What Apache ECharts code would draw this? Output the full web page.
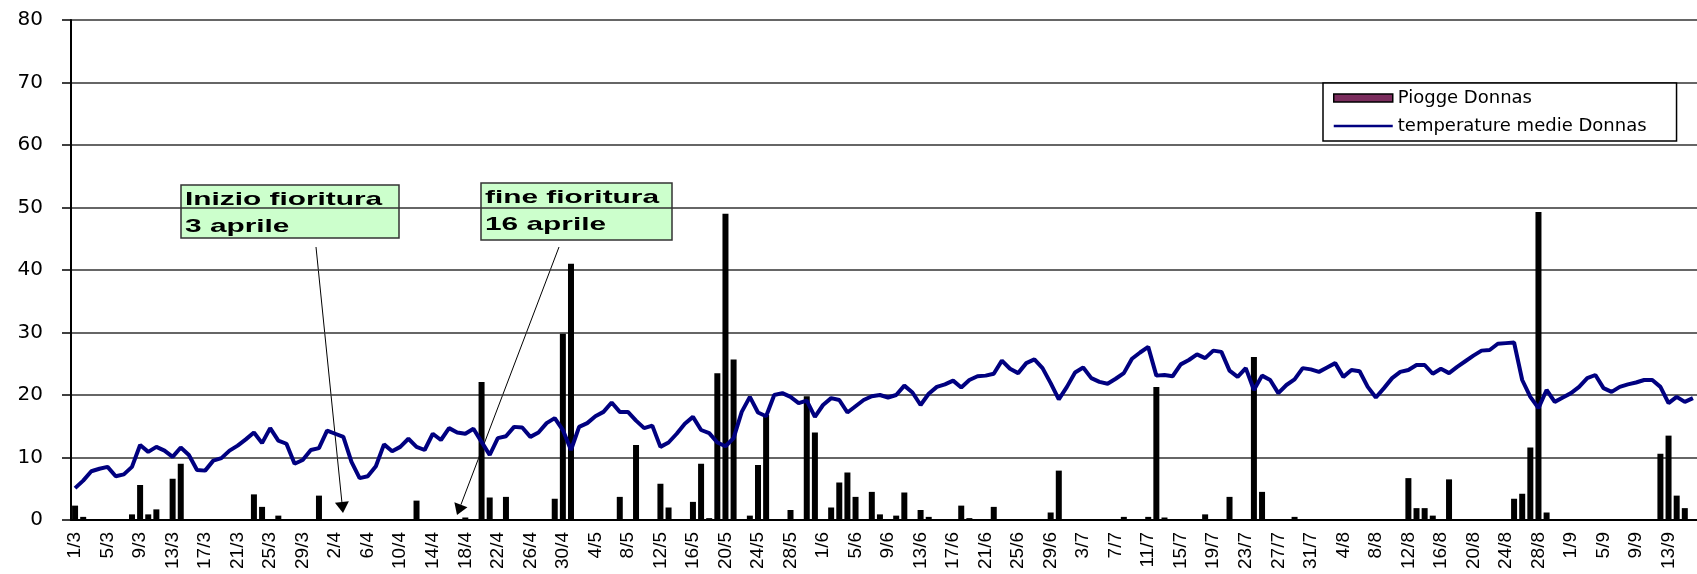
<!DOCTYPE html>
<html>
<head>
<meta charset="utf-8">
<script src="https://cdn.jsdelivr.net/npm/echarts@6/dist/echarts.min.js"></script>
<style>
html, body { margin: 0; padding: 0; background: #fff; }
#chart { width: 1697px; height: 574px; }
</style>
</head>
<body>
<div id="chart"></div>
<script>
// giorni dal 1/3 in avanti (etichette d/m)
var monthDays = [[3, 31], [4, 30], [5, 31], [6, 30], [7, 31], [8, 31], [9, 30]];
var days = [];
monthDays.forEach(function (m) {
    for (var d = 1; d <= m[1]; d++) days.push(d + '/' + m[0]);
});
days = days.slice(0, 200);

// pioggia giornaliera (mm)
var piogge = [
    2.3, 0.5, 0, 0, 0, 0, 0, 0.9, 5.6, 0.9,
    1.7, 0, 6.6, 9.0, 0, 0, 0, 0, 0, 0,
    0, 0, 4.1, 2.1, 0, 0.7, 0, 0, 0, 0,
    3.9, 0, 0, 0, 0, 0, 0, 0, 0, 0,
    0, 0, 3.1, 0, 0, 0, 0, 0, 0.4, 0,
    22.1, 3.6, 0, 3.7, 0, 0, 0, 0, 0, 3.4,
    29.8, 41.0, 0, 0, 0, 0, 0, 3.7, 0, 12.0,
    0, 0, 5.8, 2.0, 0, 0, 2.9, 9.0, 0.3, 23.5,
    49.0, 25.7, 0, 0.7, 8.8, 16.8, 0, 0, 1.6, 0,
    19.8, 14.0, 0, 2.0, 6.0, 7.6, 3.7, 0, 4.5, 0.9,
    0, 0.7, 4.4, 0, 1.6, 0.5, 0, 0, 0, 2.3,
    0.3, 0, 0, 2.1, 0, 0, 0, 0, 0, 0,
    1.2, 7.9, 0, 0, 0, 0, 0, 0, 0, 0.5,
    0, 0, 0.5, 21.3, 0.4, 0, 0, 0, 0, 0.9,
    0, 0, 3.7, 0, 0, 26.1, 4.5, 0, 0, 0,
    0.5, 0, 0, 0, 0, 0, 0, 0, 0, 0,
    0, 0, 0, 0, 6.7, 1.9, 1.9, 0.7, 0, 6.5,
    0, 0, 0, 0, 0, 0, 0, 3.4, 4.2, 11.6,
    49.3, 1.2, 0, 0, 0, 0, 0, 0, 0, 0,
    0, 0, 0, 0, 0, 10.6, 13.5, 3.9, 1.9, 0
];

// temperature medie giornaliere (°C)
var temperature = [
    5.1, 6.3, 7.8, 8.2, 8.5, 7.0, 7.3, 8.5, 12.0, 10.9,
    11.7, 11.1, 10.1, 11.6, 10.4, 8.0, 7.9, 9.5, 9.9, 11.1,
    11.9, 12.9, 14.0, 12.3, 14.7, 12.7, 12.2, 9.0, 9.6, 11.2,
    11.5, 14.3, 13.8, 13.3, 9.3, 6.7, 7.0, 8.6, 12.1, 11.0,
    11.7, 13.0, 11.7, 11.2, 13.8, 12.8, 14.7, 14.0, 13.8, 14.6,
    12.5, 10.4, 13.1, 13.4, 14.9, 14.8, 13.3, 14.0, 15.5, 16.3,
    14.4, 11.2, 14.9, 15.5, 16.6, 17.3, 18.8, 17.3, 17.3, 15.9,
    14.7, 15.1, 11.7, 12.4, 13.8, 15.4, 16.5, 14.4, 13.9, 12.4,
    11.8, 13.1, 17.3, 19.7, 17.2, 16.6, 20.0, 20.3, 19.7, 18.7,
    19.1, 16.5, 18.4, 19.5, 19.2, 17.2, 18.2, 19.2, 19.8, 20.0,
    19.6, 20.0, 21.5, 20.4, 18.4, 20.2, 21.3, 21.7, 22.3, 21.2,
    22.4, 23.0, 23.1, 23.4, 25.5, 24.2, 23.5, 25.1, 25.7, 24.3,
    21.9, 19.3, 21.3, 23.6, 24.4, 22.7, 22.1, 21.8, 22.6, 23.5,
    25.8, 26.8, 27.7, 23.1, 23.2, 23.0, 24.9, 25.6, 26.5, 25.9,
    27.1, 26.9, 23.9, 22.9, 24.3, 20.8, 23.1, 22.4, 20.3, 21.6,
    22.5, 24.3, 24.1, 23.7, 24.4, 25.1, 22.9, 24.0, 23.8, 21.3,
    19.6, 21.1, 22.7, 23.7, 24.0, 24.8, 24.8, 23.4, 24.2, 23.5,
    24.5, 25.4, 26.3, 27.1, 27.2, 28.2, 28.3, 28.4, 22.4, 19.7,
    17.9, 20.8, 18.9, 19.6, 20.3, 21.3, 22.7, 23.2, 21.1, 20.5,
    21.3, 21.7, 22.0, 22.4, 22.4, 21.3, 18.7, 19.7, 18.9, 19.5
];

// freccia: linea + punta triangolare
function freccia(x1, y1, x2, y2) {
    var dx = x2 - x1, dy = y2 - y1, L = Math.sqrt(dx * dx + dy * dy);
    var ux = dx / L, uy = dy / L, hl = 11, hw = 7;
    var bx = x2 - ux * hl, by = y2 - uy * hl;
    return [
        { type: 'line', shape: { x1: x1, y1: y1, x2: bx, y2: by }, style: { stroke: '#000', lineWidth: 1 } },
        { type: 'polygon', shape: { points: [[x2, y2], [bx - uy * hw, by + ux * hw], [bx + uy * hw, by - ux * hw]] }, style: { fill: '#000' } }
    ];
}

function nota(x, y, w, h, testo) {
    return [
        { type: 'rect', x: x, y: y, shape: { x: 0, y: 0, width: w, height: h }, style: { fill: '#ccffcc', stroke: '#333', lineWidth: 1.5 } },
        { type: 'text', x: x + 4, y: y + 1, scaleX: 1.57,
          style: { text: testo, fill: '#000', fontSize: 19, fontWeight: 'bold', fontFamily: 'Liberation Sans', lineHeight: 27 } }
    ];
}

var chart = echarts.init(document.getElementById('chart'));
var option = {
    animation: false,
    backgroundColor: '#fff',
    grid: { left: 71, top: 20, width: 1640, height: 500 },
    legend: {
        orient: 'vertical',
        left: 1323,
        top: 83,
        padding: [6, 30, 6, 10],
        itemGap: 10,
        itemWidth: 59,
        itemHeight: 8,
        backgroundColor: '#fff',
        borderColor: '#000',
        borderWidth: 1.5,
        textStyle: { fontFamily: 'DejaVu Sans', fontSize: 18, color: '#000' },
        data: [
            { name: 'Piogge Donnas', icon: 'rect', itemStyle: { color: '#7b2d5d', borderColor: '#000', borderWidth: 1.5 } },
            { name: 'temperature medie Donnas', icon: 'path://M0,0H59V2.5H0Z', itemStyle: { color: '#000080' } }
        ]
    },
    xAxis: {
        type: 'category',
        data: days,
        boundaryGap: true,
        axisLine: { lineStyle: { color: '#000', width: 2 } },
        axisTick: { interval: 0, length: 6, lineStyle: { color: '#000', width: 1.5 } },
        axisLabel: {
            interval: 3,
            rotate: 90,
            margin: 12,
            color: '#000',
            fontFamily: 'Liberation Sans',
            fontSize: 19
        },
        splitLine: { show: false }
    },
    yAxis: {
        type: 'value',
        min: 0,
        max: 80,
        interval: 10,
        axisLine: { show: true, lineStyle: { color: '#000', width: 2 } },
        axisTick: { show: true, length: 9, lineStyle: { color: '#000', width: 1.5 } },
        axisLabel: { margin: 28, color: '#000', fontFamily: 'DejaVu Sans', fontSize: 20 },
        splitLine: { lineStyle: { color: '#333', width: 1.5 } }
    },
    series: [
        {
            name: 'Piogge Donnas',
            type: 'bar',
            data: piogge,
            barWidth: 6,
            itemStyle: { color: '#000' }
        },
        {
            name: 'temperature medie Donnas',
            type: 'line',
            data: temperature,
            symbol: 'none',
            showSymbol: false,
            lineStyle: { color: '#000080', width: 4 },
            itemStyle: { color: '#000080' }
        }
    ],
    graphic: [].concat(
        nota(181, 185, 218, 53, 'Inizio fioritura\n3 aprile'),
        nota(481, 183, 191, 57, 'fine fioritura\n16 aprile'),
        freccia(316, 247, 343, 513),
        freccia(559, 247, 457, 515)
    )
};
chart.setOption(option);

window.onresize = chart.resize;
</script>
</body>
</html>
